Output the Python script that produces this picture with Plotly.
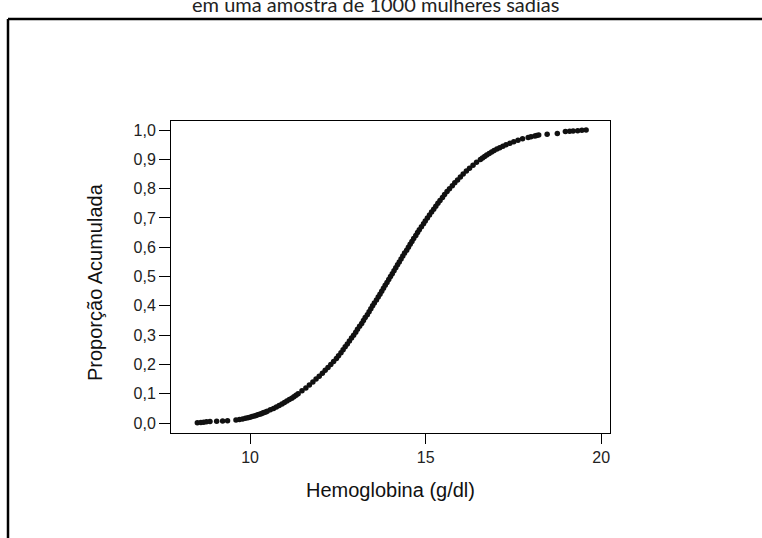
import plotly.graph_objects as go

# Cumulative proportion and the sorted hemoglobin value at it
proporcao = [
    0.001, 0.002, 0.003, 0.004, 0.005, 0.006, 0.007, 0.008,
    0.010, 0.012, 0.014, 0.016, 0.018, 0.020, 0.022, 0.024, 0.026, 0.028,
    0.030, 0.032, 0.034, 0.036, 0.038, 0.040,
    0.045, 0.050, 0.055, 0.060, 0.065, 0.070, 0.075, 0.080, 0.085, 0.090, 0.095, 0.100,
    0.11, 0.12, 0.13, 0.14, 0.15, 0.16, 0.17, 0.18, 0.19, 0.20,
    0.21, 0.22, 0.23, 0.24, 0.25, 0.26, 0.27, 0.28, 0.29, 0.30,
    0.31, 0.32, 0.33, 0.34, 0.35, 0.36, 0.37, 0.38, 0.39, 0.40,
    0.41, 0.42, 0.43, 0.44, 0.45, 0.46, 0.47, 0.48, 0.49, 0.50,
    0.51, 0.52, 0.53, 0.54, 0.55, 0.56, 0.57, 0.58, 0.59, 0.60,
    0.61, 0.62, 0.63, 0.64, 0.65, 0.66, 0.67, 0.68, 0.69, 0.70,
    0.71, 0.72, 0.73, 0.74, 0.75, 0.76, 0.77, 0.78, 0.79, 0.80,
    0.81, 0.82, 0.83, 0.84, 0.85, 0.86, 0.87, 0.88, 0.89,
    0.900, 0.905, 0.910, 0.915, 0.920, 0.925, 0.930, 0.935, 0.940, 0.945,
    0.950, 0.955, 0.960, 0.965, 0.970, 0.975, 0.9775, 0.980, 0.9815, 0.983,
    0.986, 0.988, 0.995, 0.996, 0.997, 0.998, 0.999, 1.000,
]
hemoglobina = [
    8.50, 8.60, 8.68, 8.76, 8.86, 9.05, 9.22, 9.36,
    9.60, 9.70, 9.79, 9.87, 9.94, 10.00, 10.06, 10.12, 10.17, 10.22,
    10.27, 10.32, 10.36, 10.40, 10.45, 10.49,
    10.58, 10.67, 10.75, 10.83, 10.91, 10.98, 11.05, 11.12, 11.19, 11.25, 11.31, 11.37,
    11.48, 11.59, 11.69, 11.79, 11.88, 11.97, 12.06, 12.14, 12.22, 12.30,
    12.38, 12.46, 12.52, 12.59, 12.65, 12.71, 12.77, 12.83, 12.89, 12.95,
    13.01, 13.06, 13.12, 13.18, 13.23, 13.28, 13.34, 13.39, 13.44, 13.49,
    13.54, 13.60, 13.65, 13.70, 13.75, 13.80, 13.85, 13.90, 13.95, 14.00,
    14.05, 14.10, 14.15, 14.20, 14.25, 14.30, 14.35, 14.40, 14.46, 14.51,
    14.56, 14.61, 14.66, 14.72, 14.77, 14.82, 14.88, 14.94, 14.99, 15.05,
    15.11, 15.17, 15.23, 15.29, 15.35, 15.41, 15.48, 15.54, 15.61, 15.68,
    15.76, 15.83, 15.91, 15.99, 16.07, 16.16, 16.25, 16.35, 16.45,
    16.56, 16.62, 16.68, 16.74, 16.81, 16.88, 16.95, 17.03, 17.11, 17.20,
    17.29, 17.40, 17.51, 17.63, 17.76, 17.92, 18.00, 18.11, 18.16, 18.22,
    18.46, 18.75, 18.98, 19.10, 19.20, 19.33, 19.45, 19.57,
]

x_ticks = [10, 15, 20]
y_ticks = [0.0, 0.1, 0.2, 0.3, 0.4, 0.5, 0.6, 0.7, 0.8, 0.9, 1.0]

titulo = "em uma amostra de 1000 mulheres sadias"
x_titulo = "Hemoglobina (g/dl)"
y_titulo = "Proporção Acumulada"

W, H = 762, 538
L, R, T, B = 171, 610, 121, 433  # plot area in pixels
pw, ph = R - L, B - T


def px(xp):
    return (xp - L) / pw


def py(yp):
    return (B - yp) / ph


fig = go.Figure()
fig.add_trace(go.Scatter(
    x=hemoglobina, y=proporcao, mode="markers",
    marker=dict(size=5.5, color="#111111", symbol="circle", line=dict(width=0)),
    hoverinfo="x+y", showlegend=False,
))

axis_font = dict(family="Liberation Sans, Arial, sans-serif", size=16, color="#222222")

fig.update_layout(
    width=W, height=H,
    margin=dict(l=L, r=W - R, t=T, b=H - B, pad=0),
    paper_bgcolor="white", plot_bgcolor="white",
    separators=",.",
    xaxis=dict(
        range=[7.75, 20.25], tickvals=x_ticks, ticktext=[str(v) for v in x_ticks],
        showgrid=False, zeroline=False, showline=True, linecolor="black", linewidth=1,
        mirror=True, ticks="outside", ticklen=10, tickcolor="black", tickwidth=1,
        tickfont=axis_font,
    ),
    yaxis=dict(
        range=[-0.034, 1.031], tickvals=y_ticks, tickformat=".1f",
        showgrid=False, zeroline=False, showline=True, linecolor="black", linewidth=1,
        mirror=True, ticks="outside", ticklen=11, tickcolor="black", tickwidth=1,
        tickfont=axis_font,
    ),
    annotations=[
        dict(text=x_titulo, xref="paper", yref="paper", x=0.5, y=py(490),
             xanchor="center", yanchor="middle", showarrow=False,
             font=dict(family="Liberation Sans, Arial, sans-serif", size=20, color="#111111")),
        dict(text=y_titulo, xref="paper", yref="paper", x=px(95), y=py(282),
             xanchor="center", yanchor="middle", textangle=-90, showarrow=False,
             font=dict(family="Liberation Sans, Arial, sans-serif", size=20, color="#111111")),
        dict(text=titulo, xref="paper", yref="paper", x=px(375), y=py(18),
             xanchor="center", yanchor="bottom", showarrow=False,
             font=dict(family="Lato, sans-serif", size=20, color="#222222")),
    ],
    shapes=[
        dict(type="line", xref="paper", yref="paper", x0=px(8), x1=px(W + 5),
             y0=py(19), y1=py(19), line=dict(color="black", width=2.5)),
        dict(type="line", xref="paper", yref="paper", x0=px(8), x1=px(8),
             y0=py(19), y1=py(H + 5), line=dict(color="black", width=2.5)),
    ],
)

fig.write_html("out.html")
